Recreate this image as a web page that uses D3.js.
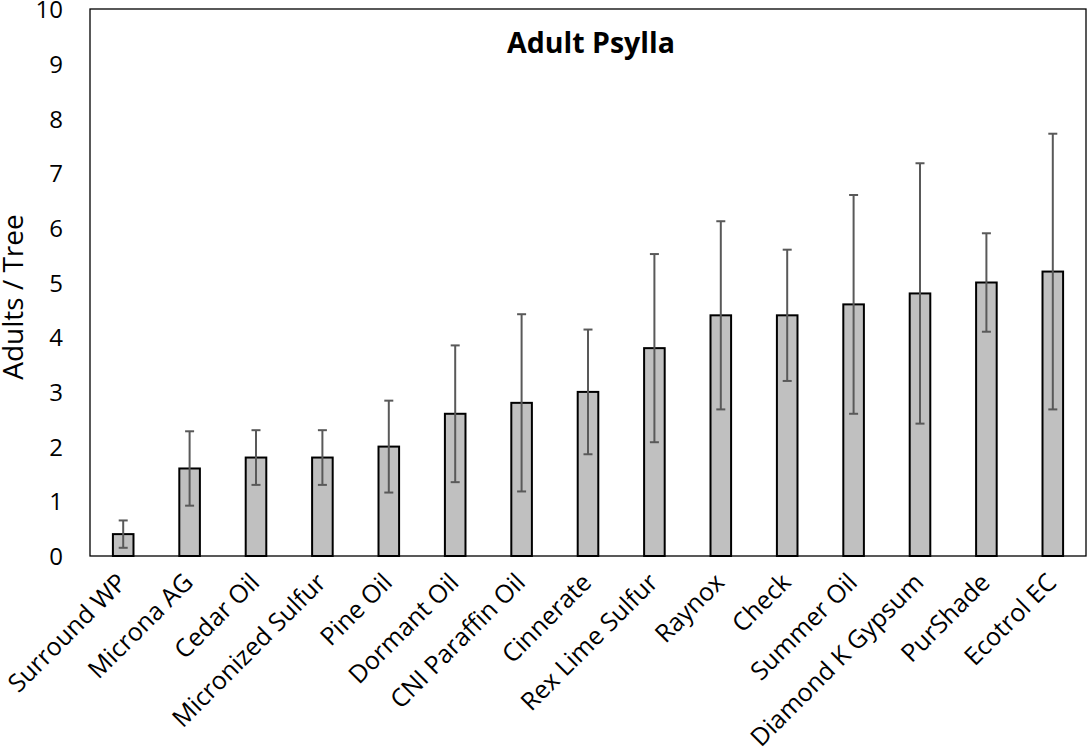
<!DOCTYPE html>
<html><head><meta charset="utf-8">
<script src="https://cdn.jsdelivr.net/npm/d3@7"></script>
<style>body{margin:0;background:#fff}svg{display:block}text{font-family:"Open Sans",sans-serif}</style>
</head><body>
<script>
const categories = ["Surround WP","Microna AG","Cedar Oil","Micronized Sulfur","Pine Oil","Dormant Oil","CNI Paraffin Oil","Cinnerate","Rex Lime Sulfur","Raynox","Check","Summer Oil","Diamond K Gypsum","PurShade","Ecotrol EC"];
const means = [0.4,1.6,1.8,1.8,2.0,2.6,2.8,3.0,3.8,4.4,4.4,4.6,4.8,5.0,5.2];
const errors = [0.25,0.68,0.5,0.5,0.84,1.25,1.62,1.14,1.72,1.72,1.2,2.0,2.38,0.9,2.52];
const yTicks = [0,1,2,3,4,5,6,7,8,9,10];
const title = "Adult Psylla";
const yTitle = "Adults / Tree";

const W = 1087, H = 749;
const m = {left:90, right:1086, top:9, bottom:556};
const svg = d3.select("body").append("svg").attr("width",W).attr("height",H);

const x = d3.scaleBand().domain(categories).range([m.left,m.right]).paddingInner(0.69).paddingOuter(0.345);
const y = d3.scaleLinear().domain([0,10]).range([m.bottom,m.top]);

// frame
svg.append("rect").attr("x",m.left).attr("y",m.top).attr("width",m.right-m.left).attr("height",m.bottom-m.top)
  .attr("fill","none").attr("stroke","#000").attr("stroke-width",1.3);

// y axis
const ya = svg.append("g").attr("transform",`translate(${m.left},0)`)
  .call(d3.axisLeft(y).tickValues(yTicks).tickSize(0).tickPadding(27).tickFormat(d3.format("d")));
ya.select(".domain").remove();
ya.selectAll("text").attr("font-size",24).attr("fill","#000").style("font-family","Open Sans").attr("dy","0.36em");

// x axis
const xa = svg.append("g").attr("transform",`translate(0,${m.bottom})`)
  .call(d3.axisBottom(x).tickSize(0).tickPadding(0));
xa.select(".domain").remove();
xa.selectAll("text").attr("font-size",25).attr("fill","#000").style("font-family","Open Sans")
  .attr("text-anchor","end").attr("dy",0)
  .attr("transform","translate(5,28) rotate(-45)");

// bars
svg.append("g").selectAll("rect").data(categories).join("rect")
  .attr("x",d=>x(d)).attr("width",x.bandwidth())
  .attr("y",(d,i)=>y(means[i])).attr("height",(d,i)=>y(0)-y(means[i]))
  .attr("fill","#c0c0c0").attr("stroke","#000").attr("stroke-width",2);

// error bars
const eb = svg.append("g").attr("stroke","#595959").attr("stroke-width",2);
categories.forEach((c,i)=>{
  const cx = x(c)+x.bandwidth()/2;
  const hi = y(means[i]+errors[i]), lo = y(means[i]-errors[i]);
  eb.append("line").attr("x1",cx).attr("x2",cx).attr("y1",hi).attr("y2",lo);
  eb.append("line").attr("x1",cx-4.5).attr("x2",cx+4.5).attr("y1",hi).attr("y2",hi);
  eb.append("line").attr("x1",cx-4.5).attr("x2",cx+4.5).attr("y1",lo).attr("y2",lo);
});

// title
svg.append("text").attr("x",591).attr("y",53).attr("text-anchor","middle")
  .attr("font-size",28.5).attr("font-weight","bold").text(title);

// y title
svg.append("text").attr("transform",`translate(23,297) rotate(-90)`).attr("text-anchor","middle")
  .attr("font-size",28).text(yTitle);
</script>
</body></html>
